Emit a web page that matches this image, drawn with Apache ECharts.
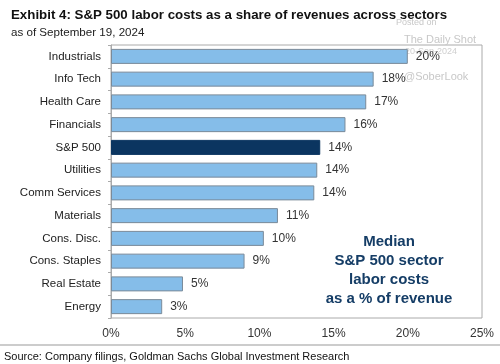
<!DOCTYPE html>
<html><head><meta charset="utf-8">
<script src="https://cdn.jsdelivr.net/npm/echarts@6/dist/echarts.min.js"></script>
<style>html,body{margin:0;padding:0;background:#fff}#c{width:500px;height:364px}</style>
</head><body><div id="c"></div>
<script>
const categories = ["Industrials","Info Tech","Health Care","Financials","S&P 500","Utilities","Comm Services","Materials","Cons. Disc.","Cons. Staples","Real Estate","Energy"];
const values = [20.0,17.7,17.2,15.8,14.1,13.9,13.7,11.25,10.3,9.0,4.85,3.45];
const xTicks = [0,5,10,15,20,25];
const highlight = "S&P 500";

const F = "'Liberation Sans', Arial, sans-serif";
const chart = echarts.init(document.getElementById('c'), null, {renderer:'canvas'});
chart.setOption({
  animation:false,
  textStyle:{fontFamily:F},
  grid:{left:111,right:18,top:45,bottom:46,show:true,borderColor:'#aaa',borderWidth:1,containLabel:false},
  title:[
    {text:'Exhibit 4: S&P 500 labor costs as a share of revenues across sectors',left:6,top:4,textStyle:{fontFamily:F,fontSize:13.3,fontWeight:'bold',color:'#111'}},
    {text:'as of September 19, 2024',left:6,top:22,textStyle:{fontFamily:F,fontSize:11.6,fontWeight:'normal',color:'#222'}}
  ],
  graphic:[
    {type:'text',style:{x:396,y:18,text:'Posted on',font:'9px '+F,fill:'#c8c8c8'}},
    {type:'text',style:{x:404,y:34,text:'The Daily Shot',font:'11px '+F,fill:'#c8c8c8'}},
    {type:'text',style:{x:405,y:47,text:'20-Sep-2024',font:'9px '+F,fill:'#cfcfcf'}},
    {type:'text',style:{x:404,y:71,text:'@SoberLook',font:'11px '+F,fill:'#c8c8c8'}},
    {type:'text',style:{x:389,y:232,text:'Median\nS&P 500 sector\nlabor costs\nas a % of revenue',font:'bold 15px '+F,fill:'#153d66',textAlign:'center',lineHeight:19}},
    {type:'line',shape:{x1:0,y1:345,x2:500,y2:345},style:{stroke:'#999',lineWidth:1}},
    {type:'text',style:{x:4,y:351,text:'Source: Company filings, Goldman Sachs Global Investment Research',font:'11px '+F,fill:'#111'}}
  ],
  xAxis:{type:'value',min:xTicks[0],max:xTicks[xTicks.length-1],interval:5,
    axisLine:{show:false},axisTick:{show:false},splitLine:{show:false},
    axisLabel:{formatter:v=>v+'%',fontFamily:F,fontSize:12,color:'#333',margin:10}},
  yAxis:{type:'category',data:categories,inverse:true,
    axisLine:{show:true,lineStyle:{color:'#aaa'}},
    axisTick:{show:true,length:3,lineStyle:{color:'#aaa'}},
    axisLabel:{fontFamily:F,fontSize:11.5,color:'#222',margin:10}},
  series:[{type:'bar',barWidth:15,
    data:values.map((v,i)=>({value:v,itemStyle:categories[i]===highlight?{color:'#0b3560',borderColor:'#0b3560',borderWidth:1}:{color:'#85bde9',borderColor:'#7a8a99',borderWidth:1}})),
    label:{show:true,position:'right',distance:8,formatter:p=>Math.round(p.value)+'%',fontFamily:F,fontSize:12,color:'#333'}
  }]
});
</script></body></html>
